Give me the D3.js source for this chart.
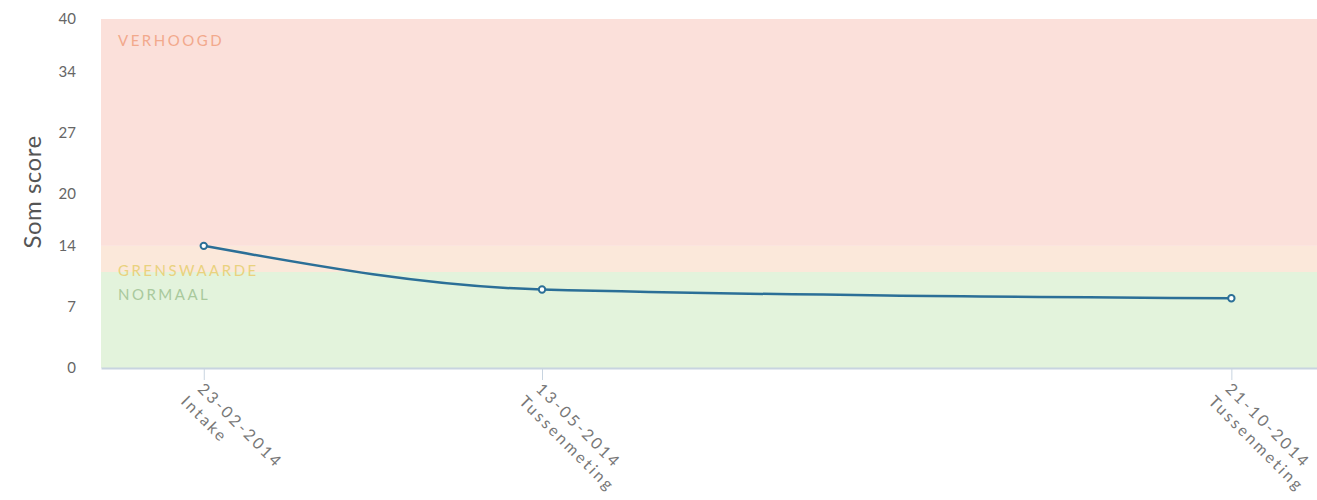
<!DOCTYPE html>
<html>
<head>
<meta charset="utf-8">
<script src="https://cdn.jsdelivr.net/npm/d3@7"></script>
<style>
  body { margin: 0; background: #fff; }
  svg text { font-family: Lato, "Open Sans", sans-serif; }
</style>
</head>
<body>
<div id="chart"></div>
<script>
// data
const dates = ["2014-02-23", "2014-05-13", "2014-10-21"];
const dateLabels = ["23-02-2014", "13-05-2014", "21-10-2014"];
const moments = ["Intake", "Tussenmeting", "Tussenmeting"];
const scores = [14, 9, 8];
const yTicks = [0, 7, 14, 20, 27, 34, 40];
const bandNames = ["NORMAAL", "GRENSWAARDE", "VERHOOGD"];
const bandFrom = [0, 11, 14];
const bandTo = [11, 14, 40];

const parse = d3.timeParse("%Y-%m-%d");
const data = dates.map((d, i) => ({ date: parse(d), score: scores[i], label: dateLabels[i], moment: moments[i] }));

// 1. dimensions
const margin = { top: 19, right: 0, bottom: 132, left: 101 };
const width = 1317 - margin.left - margin.right;
const height = 500 - margin.top - margin.bottom;

const svg = d3.select("#chart")
    .append("svg")
    .attr("width", width + margin.left + margin.right)
    .attr("height", height + margin.top + margin.bottom);

const group = svg.append("g")
    .attr("transform", `translate(${margin.left}, ${margin.top})`);

// 2. scales
const xScale = d3.scaleTime()
    .domain([d3.timeDay.offset(parse("2014-02-23"), -23.6), d3.timeDay.offset(parse("2014-10-21"), 20.8)])
    .range([0, width]);

const yScale = d3.scaleLinear()
    .domain([0, 40])
    .range([height, 0]);

// 3. bands
const bandFill = ["#e3f3dc", "#fbe8da", "#fbe0da"];
const bandText = ["#a9c99c", "#e9d27e", "#f2a98c"];
const labelY = [295, 271, 41];

group.selectAll(".band")
    .data(bandNames)
    .enter()
    .append("rect")
    .attr("x", 0)
    .attr("width", width)
    .attr("y", (d, i) => yScale(bandTo[i]))
    .attr("height", (d, i) => yScale(bandFrom[i]) - yScale(bandTo[i]))
    .attr("fill", (d, i) => bandFill[i]);

group.selectAll(".bandLabel")
    .data(bandNames)
    .enter()
    .append("text")
    .text(d => d)
    .attr("x", 17)
    .attr("y", (d, i) => labelY[i] - margin.top)
    .attr("dy", "0.35em")
    .attr("fill", (d, i) => bandText[i])
    .style("font-size", "15px")
    .style("letter-spacing", "2.5px");

// 4. axes
const yAxis = group.append("g")
    .call(d3.axisLeft(yScale).tickValues(yTicks).tickSize(0).tickPadding(25));
yAxis.select(".domain").remove();
yAxis.selectAll("text")
    .style("font-size", "15px")
    .attr("fill", "#666");

const xAxis = group.append("g")
    .attr("transform", `translate(0, ${height})`)
    .call(d3.axisBottom(xScale).tickValues(data.map(d => d.date)).tickSize(12).tickSizeOuter(0).tickFormat(""));
xAxis.select(".domain").attr("stroke", "#c8d4e0").attr("stroke-width", 2);
xAxis.selectAll(".tick line").attr("stroke", "#c8d4e0");

const xLabels = group.selectAll(".xLabel")
    .data(data)
    .enter()
    .append("text")
    .attr("transform", d => `translate(${xScale(d.date) + 1}, ${height + 14}) rotate(45)`)
    .attr("fill", "#777")
    .style("font-size", "16px")
    .style("letter-spacing", "2.6px");
xLabels.append("tspan").attr("x", 0).attr("dy", "0.7em").text(d => d.label);
xLabels.append("tspan").attr("x", -3).attr("dy", "1.3em").text(d => d.moment);

// 5. line
const line = d3.line()
    .x(d => xScale(d.date))
    .y(d => yScale(d.score))
    .curve(d3.curveMonotoneX);

group.append("path")
    .datum(data)
    .attr("d", line)
    .attr("fill", "none")
    .attr("stroke", "#2b6f97")
    .attr("stroke-width", 2.5);

group.selectAll(".dot")
    .data(data)
    .enter()
    .append("circle")
    .attr("cx", d => xScale(d.date))
    .attr("cy", d => yScale(d.score))
    .attr("r", 3.2)
    .attr("fill", "#fff")
    .attr("stroke", "#2b6f97")
    .attr("stroke-width", 2);

// y axis title
svg.append("text")
    .text("Som score")
    .attr("transform", `translate(41, 192) rotate(-90)`)
    .attr("fill", "#555")
    .style("font-size", "24px")
    .style("letter-spacing", "0.5px")
    .style("text-anchor", "middle");
</script>
</body>
</html>
